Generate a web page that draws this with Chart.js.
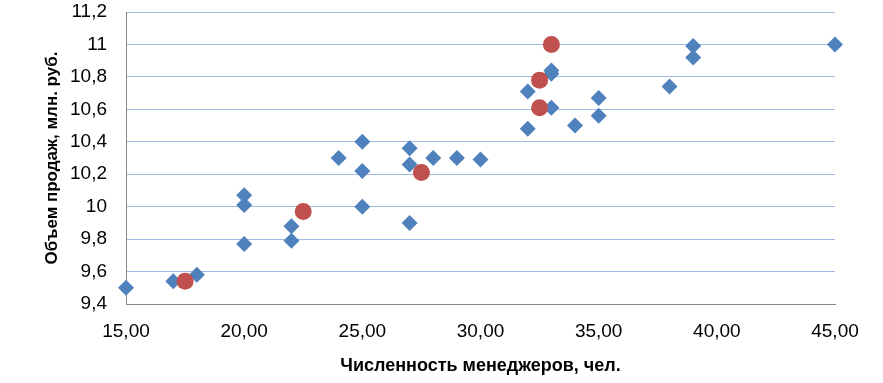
<!DOCTYPE html>
<html>
<head>
<meta charset="utf-8">
<script src="https://cdn.jsdelivr.net/npm/chart.js@4"></script>
<style>
html,body{margin:0;padding:0;background:#fff;}
#wrap{width:883px;height:383px;}
</style>
</head>
<body>
<div id="wrap"><canvas id="c" width="883" height="383"></canvas></div>
<script>
// Observed data (blue diamonds)
const managersObserved = [15, 17, 18, 20, 20, 20, 22, 22, 24, 25, 25, 25,
  27, 27, 27, 28, 29, 30, 32, 32, 33, 33, 33, 34, 35, 35, 38, 39, 39, 45];
const salesObserved = [9.50, 9.54, 9.58, 10.07, 10.01, 9.77, 9.88, 9.79, 10.30, 10.40, 10.22, 10.00,
  10.36, 10.26, 9.90, 10.30, 10.30, 10.29, 10.71, 10.48, 10.84, 10.82, 10.61, 10.50, 10.67, 10.56, 10.74, 10.99, 10.92, 11.00];
// Highlighted points (red circles)
const managersHighlighted = [17.5, 22.5, 27.5, 32.5, 32.5, 33];
const salesHighlighted = [9.54, 9.97, 10.21, 10.78, 10.61, 11.00];

const xTitle = 'Численность менеджеров, чел.';
const yTitle = 'Объем продаж, млн. руб.';
const xMin = 15, xMax = 45, xStep = 5;
const yMin = 9.4, yMax = 11.2, yStep = 0.2;

const toPoints = (xs, ys) => xs.map((x, i) => ({x: x, y: ys[i]}));

const tickFont = {family: "'Liberation Sans', Arial, sans-serif", size: 19};
const xTitleFont = {family: "'Liberation Sans', Arial, sans-serif", size: 18, weight: 'bold'};
const yTitleFont = {family: "'Liberation Sans', Arial, sans-serif", size: 17, weight: 'bold'};

new Chart(document.getElementById('c'), {
  type: 'scatter',
  data: {
    datasets: [
      {
        label: 'highlighted',
        data: toPoints(managersHighlighted, salesHighlighted),
        pointStyle: 'circle',
        pointRadius: 8.5,
        pointHoverRadius: 8.5,
        backgroundColor: '#C0504D',
        borderColor: '#C0504D',
        borderWidth: 0,
        clip: false
      },
      {
        label: 'observed',
        data: toPoints(managersObserved, salesObserved),
        pointStyle: 'rectRot',
        pointRadius: 8,
        pointHoverRadius: 8,
        backgroundColor: '#4F81BD',
        borderColor: '#4F81BD',
        borderWidth: 0,
        clip: false
      }
    ]
  },
  options: {
    responsive: false,
    animation: false,
    devicePixelRatio: 1,
    layout: {padding: {top: 12, right: 48, bottom: 0, left: 0}},
    plugins: {legend: {display: false}, tooltip: {enabled: false}},
    scales: {
      x: {
        type: 'linear',
        min: xMin, max: xMax,
        afterFit: s => { s.height = 79; s.paddingLeft = 0; s.paddingRight = 0; },
        ticks: {
          stepSize: xStep,
          padding: 16,
          color: '#000',
          font: tickFont,
          maxRotation: 0,
          callback: v => v.toFixed(2).replace('.', ',')
        },
        grid: {display: false, drawTicks: false},
        border: {display: true, color: '#868686', width: 1},
        title: {display: true, text: xTitle, color: '#000', font: xTitleFont, padding: {top: 0, bottom: 6}}
      },
      y: {
        type: 'linear',
        min: yMin, max: yMax,
        afterFit: s => { s.width = 126; s.paddingTop = 0; s.paddingBottom = 0; },
        ticks: {
          stepSize: yStep,
          padding: 19,
          color: '#000',
          font: tickFont,
          callback: v => {
            const r = Math.round(v * 10) / 10;
            return (Number.isInteger(r) ? String(r) : r.toFixed(1)).replace('.', ',');
          }
        },
        grid: {color: '#9DB9E4', lineWidth: 1, drawTicks: false},
        border: {display: true, color: '#868686', width: 1},
        title: {display: true, text: yTitle, color: '#000', font: yTitleFont, padding: {top: 42, bottom: 0}}
      }
    }
  }
});
</script>
</body>
</html>
